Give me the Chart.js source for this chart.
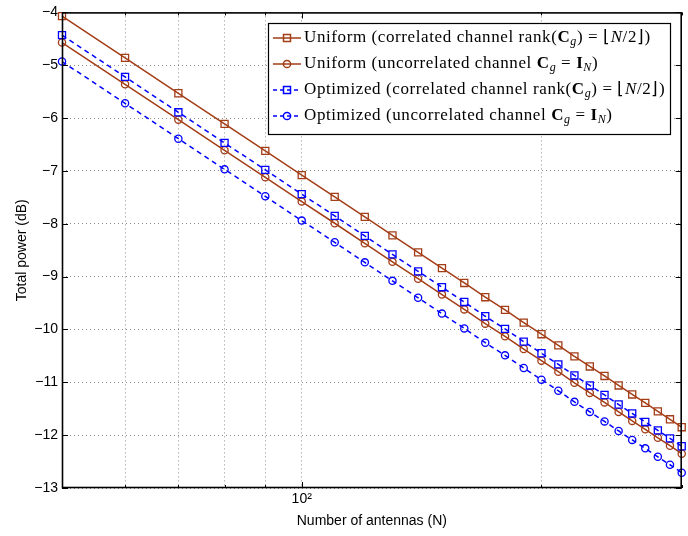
<!DOCTYPE html>
<html>
<head>
<meta charset="utf-8">
<script src="https://cdn.jsdelivr.net/npm/chart.js@4.4.0/dist/chart.umd.min.js"></script>
<style>
  html, body { margin: 0; padding: 0; background: #fff; }
  #wrap { width: 688px; height: 536px; }
</style>
</head>
<body>
<div id="wrap"><canvas id="powerChart" width="688" height="536"></canvas></div>
<script>
// values (total power in dB vs number of antennas)
const antennas = [50, 60, 70, 80, 90, 100, 110, 120, 130, 140, 150, 160, 170, 180, 190, 200, 210, 220, 230, 240, 250, 260, 270, 280, 290, 300];
const uniformCorrelated = [-4.07, -4.86, -5.53, -6.11, -6.62, -7.08, -7.49, -7.87, -8.22, -8.54, -8.84, -9.12, -9.39, -9.63, -9.87, -10.09, -10.30, -10.51, -10.70, -10.88, -11.06, -11.23, -11.39, -11.55, -11.70, -11.85];
const uniformUncorrelated = [-4.57, -5.36, -6.03, -6.61, -7.12, -7.58, -7.99, -8.37, -8.72, -9.04, -9.34, -9.62, -9.89, -10.13, -10.37, -10.59, -10.80, -11.01, -11.20, -11.38, -11.56, -11.73, -11.89, -12.05, -12.20, -12.35];
const optimizedCorrelated = [-4.43, -5.22, -5.89, -6.47, -6.98, -7.44, -7.85, -8.23, -8.58, -8.90, -9.20, -9.48, -9.75, -9.99, -10.23, -10.45, -10.66, -10.87, -11.06, -11.24, -11.42, -11.59, -11.75, -11.91, -12.06, -12.21];
const optimizedUncorrelated = [-4.93, -5.72, -6.39, -6.97, -7.48, -7.94, -8.35, -8.73, -9.08, -9.40, -9.70, -9.98, -10.25, -10.49, -10.73, -10.95, -11.16, -11.37, -11.56, -11.74, -11.92, -12.09, -12.25, -12.41, -12.56, -12.71];

const yTicks = [-4, -5, -6, -7, -8, -9, -10, -11, -12, -13];
const xGridValues = [60, 70, 80, 90, 100, 200, 300];
const xMajorValue = 100;
const xMajorLabel = '10²';

const BROWN = '#a33d16';
const BLUE = '#0000ff';

function pts(ys) {
    return antennas.map(function(n, i) { return { x: n, y: ys[i] }; });
}

// legend rows: [text, style] pieces (n normal, b bold, i italic, s subscript)
const legendRows = [
    { color: BROWN, dash: [], marker: 'rect', parts: [['Uniform (correlated channel rank(', 'n'], ['C', 'b'], ['g', 's'], [') = ⌊', 'n'], ['N', 'i'], ['/2⌋)', 'n']] },
    { color: BROWN, dash: [], marker: 'circle', parts: [['Uniform (uncorrelated channel ', 'n'], ['C', 'b'], ['g', 's'], [' = ', 'n'], ['I', 'b'], ['N', 's'], [')', 'n']] },
    { color: BLUE, dash: [4, 3], marker: 'rect', parts: [['Optimized (correlated channel rank(', 'n'], ['C', 'b'], ['g', 's'], [') = ⌊', 'n'], ['N', 'i'], ['/2⌋)', 'n']] },
    { color: BLUE, dash: [4, 3], marker: 'circle', parts: [['Optimized (uncorrelated channel ', 'n'], ['C', 'b'], ['g', 's'], [' = ', 'n'], ['I', 'b'], ['N', 's'], [')', 'n']] }
];

const fonts = {
    n: '17px "Liberation Serif"',
    b: 'bold 17px "Liberation Serif"',
    i: 'italic 17px "Liberation Serif"',
    s: 'italic 12px "Liberation Serif"'
};

const framePlugin = {
    id: 'frameAndLegend',
    afterDraw: function(chart) {
        const ctx = chart.ctx;
        const a = chart.chartArea;
        const xs = chart.scales.x, ys = chart.scales.y;
        ctx.save();
        ctx.strokeStyle = '#000';
        ctx.lineWidth = 1;
        ctx.setLineDash([]);
        // ticks pointing inwards, as in the original
        ctx.beginPath();
        yTicks.forEach(function(v) {
            const py = Math.round(ys.getPixelForValue(v)) + 0.5;
            ctx.moveTo(a.left, py); ctx.lineTo(a.left + 6, py);
            ctx.moveTo(a.right, py); ctx.lineTo(a.right - 6, py);
        });
        xGridValues.forEach(function(v) {
            const px = Math.round(xs.getPixelForValue(v)) + 0.5;
            const len = v === xMajorValue ? 6 : 3;
            ctx.moveTo(px, a.bottom); ctx.lineTo(px, a.bottom - len);
            ctx.moveTo(px, a.top); ctx.lineTo(px, a.top + len);
        });
        ctx.stroke();
        ctx.lineWidth = 1.6;
        ctx.strokeRect(a.left + 0.5, a.top + 0.5, a.right - a.left - 1, a.bottom - a.top - 1);

        // legend box
        const bx = 268, by = 23, bw = 402, bh = 111;
        ctx.fillStyle = '#fff';
        ctx.fillRect(bx, by, bw, bh);
        ctx.lineWidth = 1.2;
        ctx.strokeRect(bx + 0.5, by + 0.5, bw, bh);

        legendRows.forEach(function(row, i) {
            const cy = 38 + i * 26;
            ctx.strokeStyle = row.color;
            ctx.lineWidth = 1.5;
            ctx.setLineDash(row.dash);
            ctx.beginPath();
            ctx.moveTo(273, cy); ctx.lineTo(301, cy);
            ctx.stroke();
            ctx.setLineDash([]);
            ctx.beginPath();
            if (row.marker === 'rect') {
                ctx.rect(283.5, cy - 3.5, 7, 7);
            } else {
                ctx.arc(287, cy, 3.6, 0, Math.PI * 2);
            }
            ctx.stroke();

            let tx = 304;
            ctx.fillStyle = '#000';
            ctx.textBaseline = 'middle';
            ctx.textAlign = 'left';
            ctx.letterSpacing = '0.6px';
            row.parts.forEach(function(p) {
                ctx.font = fonts[p[1]];
                const dy = p[1] === 's' ? 4 : 0;
                ctx.fillText(p[0], tx, cy + dy);
                tx += ctx.measureText(p[0]).width;
            });
            ctx.letterSpacing = '0px';
        });
        ctx.restore();
    }
};

const ctx = document.getElementById('powerChart');
new Chart(ctx, {
    type: 'line',
    data: {
        datasets: [
            {
                label: 'Uniform (correlated channel rank(Cg) = ⌊N/2⌋)',
                data: pts(uniformCorrelated),
                borderColor: BROWN, pointBorderColor: BROWN,
                pointStyle: 'rect', pointRadius: 5, order: 4
            },
            {
                label: 'Uniform (uncorrelated channel Cg = IN)',
                data: pts(uniformUncorrelated),
                borderColor: BROWN, pointBorderColor: BROWN,
                pointStyle: 'circle', pointRadius: 3.6, order: 3
            },
            {
                label: 'Optimized (correlated channel rank(Cg) = ⌊N/2⌋)',
                data: pts(optimizedCorrelated),
                borderColor: BLUE, pointBorderColor: BLUE, borderDash: [5, 4],
                pointStyle: 'rect', pointRadius: 5, order: 2
            },
            {
                label: 'Optimized (uncorrelated channel Cg = IN)',
                data: pts(optimizedUncorrelated),
                borderColor: BLUE, pointBorderColor: BLUE, borderDash: [5, 4],
                pointStyle: 'circle', pointRadius: 3.6, order: 1
            }
        ]
    },
    options: {
        responsive: false,
        animation: false,
        events: [],
        layout: { padding: { top: 12, right: 5, left: 0, bottom: 0 } },
        elements: {
            line: { borderWidth: 1.5, tension: 0, fill: false },
            point: { borderWidth: 1.3, backgroundColor: 'rgba(0,0,0,0)', hoverRadius: 4 }
        },
        datasets: { line: { clip: false } },
        plugins: {
            legend: { display: false },
            tooltip: { enabled: false }
        },
        scales: {
            x: {
                type: 'logarithmic',
                min: 50, max: 300,
                afterBuildTicks: function(scale) {
                    scale.ticks = xGridValues.map(function(v) { return { value: v }; });
                },
                afterFit: function(scale) { scale.height = 48; },
                grid: { color: 'rgba(0,0,0,0.45)', lineWidth: 1, drawTicks: false },
                border: { display: false, dash: [1, 3] },
                ticks: {
                    autoSkip: false, maxRotation: 0, padding: 3,
                    color: '#000',
                    font: { family: '"Liberation Sans", Arial, sans-serif', size: 14 },
                    callback: function(v) { return v === xMajorValue ? xMajorLabel : ''; }
                },
                title: {
                    display: true, text: 'Number of antennas (N)', color: '#000',
                    font: { family: '"Liberation Sans", Arial, sans-serif', size: 14 },
                    padding: { top: 0, bottom: 6 }
                }
            },
            y: {
                min: -13, max: -4,
                afterBuildTicks: function(scale) {
                    scale.ticks = yTicks.map(function(v) { return { value: v }; });
                },
                afterFit: function(scale) { scale.width = 62; },
                grid: { color: 'rgba(0,0,0,0.45)', lineWidth: 1, drawTicks: false },
                border: { display: false, dash: [1, 3] },
                ticks: {
                    padding: 4, color: '#000',
                    font: { family: '"Liberation Sans", Arial, sans-serif', size: 14 },
                    callback: function(v) { return v < 0 ? '\u2212' + Math.abs(v) : String(v); }
                },
                title: {
                    display: true, text: 'Total power (dB)', color: '#000',
                    font: { family: '"Liberation Sans", Arial, sans-serif', size: 14 },
                    padding: { top: 14, bottom: 0 }
                }
            }
        }
    },
    plugins: [framePlugin]
});
</script>
</body>
</html>
